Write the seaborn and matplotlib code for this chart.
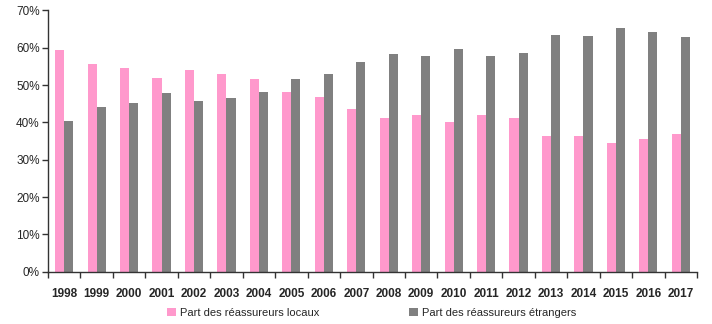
import matplotlib
matplotlib.use("Agg")
import matplotlib.pyplot as plt
import seaborn as sns
import pandas as pd
import numpy as np
from matplotlib.ticker import FixedLocator, FuncFormatter

years = [str(y) for y in range(1998, 2018)]
locaux = [59.4, 55.6, 54.6, 51.9, 54.0, 52.9, 51.6, 48.1, 46.8, 43.6,
          41.2, 42.0, 40.1, 42.0, 41.2, 36.3, 36.3, 34.5, 35.5, 36.9]
etrangers = [40.4, 44.1, 45.2, 47.9, 45.7, 46.5, 48.1, 51.6, 52.9, 56.2,
             58.3, 57.8, 59.6, 57.8, 58.6, 63.4, 63.1, 65.3, 64.2, 62.9]
series_names = ["Part des réassureurs locaux", "Part des réassureurs étrangers"]
colors = ["#FF99CC", "#808080"]

df = pd.DataFrame({
    "year": years * 2,
    "value": locaux + etrangers,
    "series": [series_names[0]] * len(years) + [series_names[1]] * len(years),
})

sns.set_style("white")
plt.rcParams["font.family"] = ["Liberation Sans", "DejaVu Sans"]

fig = plt.figure(figsize=(7.12, 3.24), dpi=100)
ax = fig.add_axes([0.0674, 0.1614, 0.9116, 0.8066])

sns.barplot(data=df, x="year", y="value", hue="series", palette=colors,
            width=0.56, saturation=1, ax=ax, legend=True, linewidth=0,
            edgecolor="none", gap=0)

ax.set_ylim(0, 70)
ax.set_xlim(-0.5, len(years) - 0.5)
ax.set_yticks(np.arange(0, 71, 10))
ax.yaxis.set_major_formatter(FuncFormatter(lambda v, p: f"{int(v)}%"))
ax.set_xlabel("")
ax.set_ylabel("")

ax.xaxis.set_minor_locator(FixedLocator(np.arange(-0.5, len(years), 1)))
ax.tick_params(axis="x", which="major", length=0, labelsize=8.5, pad=12)
ax.tick_params(axis="x", which="minor", length=4, width=1, color="#333333", direction="out", bottom=True)
ax.tick_params(axis="y", which="major", length=4, width=1, color="#333333", direction="out", left=True, labelsize=8.5, pad=2)
for lab in ax.get_xticklabels():
    lab.set_fontweight("bold")

for s in ["top", "right"]:
    ax.spines[s].set_visible(False)
for s in ["left", "bottom"]:
    ax.spines[s].set_color("#333333")
    ax.spines[s].set_linewidth(1)

handles, labels = ax.get_legend_handles_labels()
ax.get_legend().remove()
fig.legend(handles, labels, loc="center", bbox_to_anchor=(0.522, 0.034), ncol=2,
           frameon=False, fontsize=8, handlelength=0.8, handleheight=0.8,
           handletextpad=0.4, columnspacing=8)

fig.savefig("out.png", dpi=100)
